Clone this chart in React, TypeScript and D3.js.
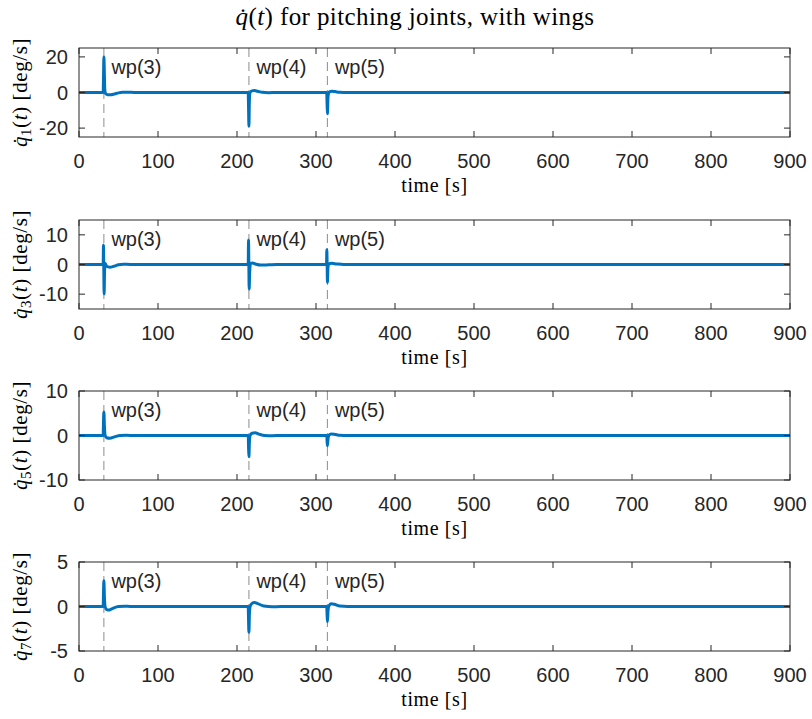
import React from "react";
import * as d3 from "d3";

// Joint velocity traces (time [s], value [deg/s])
const q1Data: [number, number][] = [
  [0, 0], [30.6, 0], [31.0, 8], [31.5, 20], [32.0, 13], [32.6, 2], [33.5, -0.5], [36, -1.2], [40, -1.3],
  [45, -0.8], [50, -0.2], [55, 0.1], [62, 0.15], [70, 0], [214.2, 0], [214.6, -8], [215.1, -19],
  [215.6, -6], [216.5, 0], [219, 0.9], [222, 1.1], [226, 0.7], [232, 0.1], [240, -0.1], [250, 0],
  [313.6, 0], [314.0, -6], [314.5, -12], [315.1, -3], [316.5, 0.3], [320, 0.7], [324, 0.5], [330, 0.1],
  [340, 0], [900, 0],
];
const q3Data: [number, number][] = [
  [0, 0], [30.6, 0], [31.0, 6.6], [31.4, -2], [31.8, -9.9], [32.4, -2], [33.2, 0.3], [35, -0.6], [39, -0.9],
  [44, -0.6], [50, -0.1], [56, 0.1], [65, 0], [214.2, 0], [214.6, 8.3], [215.0, 0], [215.4, -8.3],
  [216.0, -3], [217, 0.3], [219.5, 0.5], [224, 0.1], [230, -0.2], [240, -0.1], [250, 0], [313.3, 0],
  [313.7, 5], [314.1, 0], [314.5, -6], [315.1, -1], [316.2, 0.2], [320, 0.4], [326, 0.2], [335, 0], [900, 0],
];
const q5Data: [number, number][] = [
  [0, 0], [30.6, 0], [31.0, 3], [31.5, 5.3], [32.2, 2], [33, 0.1], [35, -0.5], [39, -0.6], [45, -0.3],
  [52, 0], [60, 0.05], [70, 0], [214.2, 0], [214.6, -2.5], [215.1, -4.8], [215.7, -1.5], [216.6, 0],
  [219, 0.5], [223, 0.6], [228, 0.3], [235, 0], [245, -0.05], [255, 0], [313.6, 0], [314.0, -1.2],
  [314.5, -2.3], [315.2, -0.8], [316.5, 0.1], [319, 0.35], [323, 0.3], [330, 0.05], [340, 0], [900, 0],
];
const q7Data: [number, number][] = [
  [0, 0], [30.6, 0], [31.0, 1.5], [31.5, 2.9], [32.2, 1], [33, 0], [35, -0.35], [38, -0.4], [43, -0.2],
  [50, 0], [58, 0.03], [65, 0], [214.2, 0], [214.6, -1.5], [215.1, -2.9], [215.7, -0.9], [216.6, 0],
  [219, 0.35], [222, 0.45], [227, 0.3], [234, 0.05], [245, -0.03], [255, 0], [313.6, 0], [314.0, -0.9],
  [314.5, -1.7], [315.2, -0.5], [316.5, 0.1], [319, 0.3], [323, 0.25], [330, 0.05], [340, 0], [900, 0],
];

const seriesData = [q1Data, q3Data, q5Data, q7Data];
const jointIndex = ["1", "3", "5", "7"];
const yDomains: [number, number][] = [[-25, 25], [-15, 15], [-10, 10], [-5, 5]];
const yTicks: number[][] = [[-20, 0, 20], [-10, 0, 10], [-10, 0, 10], [-5, 0, 5]];
const xTicks = [0, 100, 200, 300, 400, 500, 600, 700, 800, 900];

// Waypoint markers
const waypointTimes = [31.5, 215.1, 314.4];
const waypointLabels = ["wp(3)", "wp(4)", "wp(5)"];

const W = 812;
const H = 719;
const left = 79;
const right = 790;
const tops = [48, 220, 391, 562];
const axH = 89;

const axisColor = "#262626";
const lineColor = "#0072BD";
const sans = "'Liberation Sans', Arial, Helvetica, sans-serif";
const serif = "'Liberation Serif', 'Times New Roman', serif";

function Panel({ idx }: { idx: number }) {
  const top = tops[idx];
  const bottom = top + axH;
  const x = d3.scaleLinear().domain([0, 900]).range([left, right]);
  const y = d3.scaleLinear().domain(yDomains[idx]).range([bottom, top]);
  const line = d3
    .line<[number, number]>()
    .x((d) => x(d[0]))
    .y((d) => y(d[1]))
    .curve(d3.curveMonotoneX);
  const tickLen = 6;
  const midY = (top + bottom) / 2;

  return (
    <g>
      {/* waypoint dashed lines */}
      {waypointTimes.map((t, i) => (
        <line
          key={"wp" + i}
          x1={x(t)}
          x2={x(t)}
          y1={top}
          y2={bottom}
          stroke="#8c8c8c"
          strokeWidth={1}
          strokeDasharray="9,5"
        />
      ))}
      {/* data trace */}
      <path d={line(seriesData[idx]) || ""} fill="none" stroke={lineColor} strokeWidth={3} strokeLinejoin="round" />
      {/* waypoint labels */}
      {waypointTimes.map((t, i) => (
        <text
          key={"wpl" + i}
          x={x(t) + 7.5}
          y={top + 26}
          fontFamily={sans}
          fontSize={20}
          fill={axisColor}
        >
          {waypointLabels[i]}
        </text>
      ))}
      {/* axes box */}
      <rect x={left} y={top} width={right - left} height={axH} fill="none" stroke={axisColor} strokeWidth={1} />
      {/* x ticks */}
      {xTicks.map((t) => (
        <g key={"xt" + t}>
          <line x1={x(t)} x2={x(t)} y1={bottom} y2={bottom - tickLen} stroke={axisColor} />
          <line x1={x(t)} x2={x(t)} y1={top} y2={top + tickLen} stroke={axisColor} />
          <text
            x={x(t)}
            y={bottom + 31}
            textAnchor="middle"
            fontFamily={sans}
            fontSize={20}
            fill={axisColor}
          >
            {t}
          </text>
        </g>
      ))}
      {/* y ticks */}
      {yTicks[idx].map((v) => (
        <g key={"yt" + v}>
          <line x1={left} x2={left + tickLen} y1={y(v)} y2={y(v)} stroke={axisColor} />
          <line x1={right} x2={right - tickLen} y1={y(v)} y2={y(v)} stroke={axisColor} />
          <text
            x={left - 11}
            y={y(v) + 7}
            textAnchor="end"
            fontFamily={sans}
            fontSize={20}
            fill={axisColor}
          >
            {v}
          </text>
        </g>
      ))}
      {/* x label */}
      <text
        x={(left + right) / 2}
        y={bottom + 55}
        textAnchor="middle"
        fontFamily={serif}
        fontSize={20}
        letterSpacing={0.6}
        fill="#000"
      >
        time [s]
      </text>
      {/* y label */}
      <text
        transform={`translate(27,${midY}) rotate(-90)`}
        textAnchor="middle"
        fontFamily={serif}
        fontSize={21}
        letterSpacing={0.6}
        fill="#000"
      >
        <tspan fontStyle="italic">q̇</tspan>
        <tspan fontSize={15} dy={4}>{jointIndex[idx]}</tspan>
        <tspan dy={-4}>(</tspan>
        <tspan fontStyle="italic">t</tspan>
        <tspan>)  [deg/s]</tspan>
      </text>
    </g>
  );
}

export default function App() {
  return (
    <svg
      width={W}
      height={H}
      viewBox={`0 0 ${W} ${H}`}
      style={{ position: "absolute", left: 0, top: 0, background: "#fff" }}
    >
      <rect x={0} y={0} width={W} height={H} fill="#fff" />
      <text x={415} y={25} textAnchor="middle" fontFamily={serif} fontSize={25} letterSpacing={0.4} fill="#000">
        <tspan fontStyle="italic">q̇</tspan>
        <tspan>(</tspan>
        <tspan fontStyle="italic">t</tspan>
        <tspan>) for pitching joints, with wings</tspan>
      </text>
      {[0, 1, 2, 3].map((i) => (
        <Panel key={i} idx={i} />
      ))}
    </svg>
  );
}
